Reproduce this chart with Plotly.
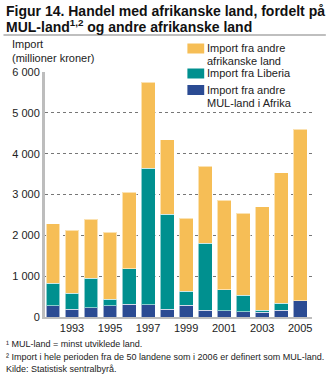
import plotly.graph_objects as go

# Years shown on the chart
years = list(range(1992, 2006))

# Import values (million NOK), stacked from bottom to top
mul_other = [270, 188, 228, 270, 318, 300, 196, 293, 171, 154, 130, 122, 164, 398]
liberia = [560, 399, 726, 163, 863, 3343, 2315, 343, 1631, 513, 400, 49, 178, 0]
africa_other = [1450, 1540, 1442, 1645, 1875, 2110, 1824, 1777, 1890, 2194, 2005, 2526, 3186, 4198]

y_ticks = [0, 1000, 2000, 3000, 4000, 5000, 6000]
y_tick_labels = ["0", "1 000", "2 000", "3 000", "4 000", "5 000", "6 000"]
x_ticks = [1993, 1995, 1997, 1999, 2001, 2003, 2005]

FONT = "Liberation Sans, Arial, sans-serif"
ORANGE = "#F6BE56"
TEAL = "#00908F"
BLUE = "#2B4B93"

# Plot area geometry (pixels) used to place the surrounding furniture
W, H = 326, 375
L, R, T, B = 42, 14, 72, 58
PW, PH = W - L - R, H - T - B


def px(x):
    return (x - L) / PW


def py(y):
    return (H - B - y) / PH


fig = go.Figure()
border = dict(color="rgba(255,255,255,0.55)", width=1)
series = [
    ("Import fra andre MUL-land i Afrika", mul_other, BLUE),
    ("Import fra Liberia", liberia, TEAL),
    ("Import fra andre afrikanske land", africa_other, ORANGE),
]
for name, vals, col in series:
    fig.add_trace(go.Bar(x=years, y=vals, name=name, showlegend=False,
                         marker=dict(color=col, line=border)))

fig.update_layout(
    width=W, height=H,
    barmode="stack", bargap=0.27,
    margin=dict(l=L, r=R, t=T, b=B),
    paper_bgcolor="white", plot_bgcolor="white",
    font=dict(family=FONT, size=11, color="#222"),
    xaxis=dict(
        range=[1991.58, 2005.62], tickvals=x_ticks, ticks="",
        showgrid=False, zeroline=False,
        showline=True, linecolor="#bdbdbd", linewidth=2,
        tickfont=dict(size=11, color="#222"),
    ),
    yaxis=dict(
        range=[0, 6000], tickvals=y_ticks, ticktext=y_tick_labels, ticks="",
        showgrid=True, gridcolor="#777", griddash="dot", gridwidth=1,
        zeroline=False, showline=True, linecolor="#bdbdbd", linewidth=3,
        tickfont=dict(size=11, color="#222"),
    ),
)

# Title block and rule underneath
fig.add_annotation(
    xref="paper", yref="paper", x=px(1), y=py(0.5), xanchor="left", yanchor="top",
    align="left", showarrow=False,
    text="<b>Figur 14. Handel med afrikanske land, fordelt på</b>",
    font=dict(family=FONT, size=14, color="#111"),
)
fig.add_annotation(
    xref="paper", yref="paper", x=px(1), y=py(15), xanchor="left", yanchor="top",
    align="left", showarrow=False,
    text="<b>MUL-land<sup>1,2</sup> og andre afrikanske land</b>",
    font=dict(family=FONT, size=14, color="#111"),
)
fig.add_shape(type="line", xref="paper", yref="paper", x0=px(0), x1=px(W),
              y0=py(35), y1=py(35), line=dict(color="#aaaaaa", width=1.5))

# Axis unit label
fig.add_annotation(
    xref="paper", yref="paper", x=px(7), y=py(36), xanchor="left", yanchor="top",
    align="left", showarrow=False, text="Import<br>(millioner kroner)",
    font=dict(family=FONT, size=11, color="#222"),
)

# Legend block drawn on a white panel over the top gridline
fig.add_shape(type="rect", xref="paper", yref="paper", x0=px(183), x1=px(313),
              y0=py(110), y1=py(40), line=dict(width=0), fillcolor="white",
              layer="above")
legend_rows = [
    (ORANGE, 43.5, ["Import fra andre", "afrikanske land"]),
    (TEAL, 68.5, ["Import fra Liberia"]),
    (BLUE, 85.0, ["Import fra andre", "MUL-land i Afrika"]),
]
for col, top, lines in legend_rows:
    fig.add_shape(type="rect", xref="paper", yref="paper", x0=px(186), x1=px(203),
                  y0=py(top + 10), y1=py(top), line=dict(width=0), fillcolor=col,
                  layer="above")
    for k, line in enumerate(lines):
        fig.add_annotation(
            xref="paper", yref="paper", x=px(204), y=py(top + 5 + k * 12.8),
            xanchor="left", yanchor="middle", align="left", showarrow=False,
            text=line, font=dict(family=FONT, size=11, color="#222"),
        )

# Footnotes and source
notes = [
    "¹ MUL-land = minst utviklede land.",
    "² Import i hele perioden fra de 50 landene som i 2006 er definert som MUL-land.",
    "Kilde: Statistisk sentralbyrå.",
]
for i, t in enumerate(notes):
    fig.add_annotation(
        xref="paper", yref="paper", x=px(1), y=py(337 + i * 12.5),
        xanchor="left", yanchor="top", align="left", showarrow=False, text=t,
        font=dict(family=FONT, size=9, color="#222"),
    )

fig.write_html("out.html")
